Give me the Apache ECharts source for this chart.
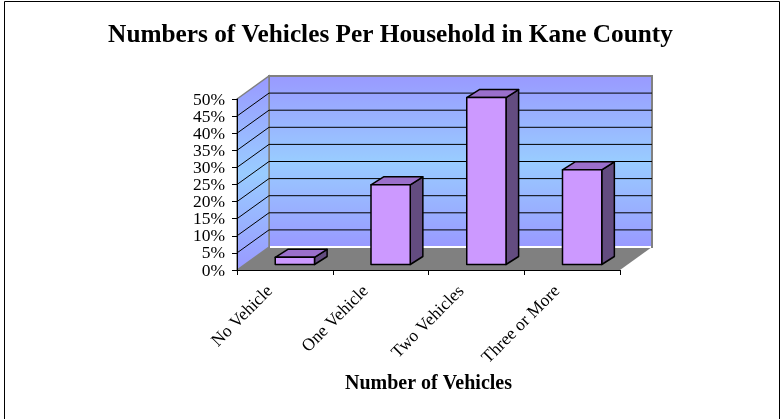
<!DOCTYPE html>
<html><head><meta charset="utf-8">
<script src="https://cdn.jsdelivr.net/npm/echarts@6/dist/echarts.min.js"></script>
<style>html,body{margin:0;padding:0;background:#fff}#c{width:781px;height:419px}</style>
</head><body><div id="c"></div>
<script>
const categories = ['No Vehicle', 'One Vehicle', 'Two Vehicles', 'Three or More'];
const shares = [2.1, 23.3, 48.8, 27.7];
const yTicks = [0, 5, 10, 15, 20, 25, 30, 35, 40, 45, 50];
const gridValues = [5, 10, 15, 20, 25, 30, 35, 40, 45];
const titleText = 'Numbers of Vehicles Per Household in Kane County';
const xAxisTitle = 'Number of Vehicles';

const DX = 32, DY = -23;          // wall depth offset
const BDX = 12.6, BDY = -8;       // bar depth offset
const BOFFX = 10, BOFFY = -5.5;   // bar front face offset from front plane
const FONT = 'Liberation Serif, Times New Roman, serif';

const chart = echarts.init(document.getElementById('c'));

function wallGrad() {
  return new echarts.graphic.LinearGradient(0, 0, 0, 1, [
    { offset: 0, color: '#9999FF' },
    { offset: 0.5, color: '#99CCFF' },
    { offset: 1, color: '#9999FF' }
  ]);
}

function renderWalls(params, api) {
  const cs = params.coordSys;
  const x0 = cs.x, x1 = cs.x + cs.width, yt = cs.y, yb = cs.y + cs.height;
  const ch = [];
  ch.push({ type: 'polygon', shape: { points: [[x0, yb], [x1, yb], [x1 + DX, yb + DY], [x0 + DX, yb + DY]] },
    style: { fill: '#808080' } });
  ch.push({ type: 'rect', shape: { x: x0 + DX, y: yt + DY, width: cs.width, height: cs.height },
    style: { fill: wallGrad(), stroke: '#808080', lineWidth: 2 } });
  ch.push({ type: 'polygon', shape: { points: [[x0, yt], [x0 + DX, yt + DY], [x0 + DX, yb + DY], [x0, yb]] },
    style: { fill: wallGrad(), stroke: '#808080', lineWidth: 1.5 } });
  gridValues.forEach(v => {
    const y = api.coord([0, v])[1];
    ch.push({ type: 'polyline', shape: { points: [[x0, y], [x0 + DX, y + DY], [x1 + DX, y + DY]] },
      style: { stroke: '#000', lineWidth: 1, fill: null } });
  });
  ch.push({ type: 'line', shape: { x1: x0 + DX + 1, y1: yb + DY, x2: x1 + DX - 1, y2: yb + DY },
    style: { stroke: '#fff', lineWidth: 2 } });
  // y tick labels
  yTicks.forEach(v => {
    const y = api.coord([0, v])[1];
    ch.push({ type: 'text', x: x0 - 12, y: y + 1,
      style: { text: v + '%', fontFamily: FONT, fontSize: 17.5, fill: '#000', align: 'right', verticalAlign: 'middle' } });
  });
  return { type: 'group', children: ch };
}

function renderBar(params, api) {
  const i = api.value(0), v = api.value(1);
  const top = api.coord([i, v]), base = api.coord([i, 0]);
  const w = api.size([1, 0])[0] * 0.41;
  const xl = top[0] - w / 2 + BOFFX, xr = xl + w;
  const yt = top[1] + BOFFY, yb = base[1] + BOFFY;
  const st = { stroke: '#000', lineWidth: 1.5, lineJoin: 'round' };
  return { type: 'group', children: [
    { type: 'polygon', shape: { points: [[xr, yt], [xr + BDX, yt + BDY], [xr + BDX, yb + BDY], [xr, yb]] },
      style: Object.assign({ fill: '#634C80' }, st) },
    { type: 'polygon', shape: { points: [[xl, yt], [xr, yt], [xr + BDX, yt + BDY], [xl + BDX, yt + BDY]] },
      style: Object.assign({ fill: '#9A6FCB' }, st) },
    { type: 'rect', shape: { x: xl, y: yt, width: w, height: yb - yt },
      style: Object.assign({ fill: '#CC99FF' }, st) }
  ] };
}

chart.setOption({
  animation: false,
  backgroundColor: '#fff',
  title: { text: titleText, left: 'center', top: 18,
    textStyle: { fontFamily: FONT, fontWeight: 'bold', fontSize: 25.3, color: '#000' } },
  graphic: [
    { type: 'polyline', shape: { points: [[4.5, 419], [4.5, 1.5], [779.5, 1.5], [779.5, 419]] },
      style: { fill: null, stroke: '#000', lineWidth: 1 }, z: 100 }
  ],
  grid: { left: 237, top: 99, width: 383, height: 171 },
  xAxis: {
    type: 'category', data: categories, z: 5,
    axisLine: { lineStyle: { color: '#000', width: 1 } },
    axisTick: { show: true, alignWithLabel: false, length: 5, lineStyle: { color: '#000' } },
    axisLabel: { interval: 0, rotate: 45, margin: -9, align: 'right', verticalAlign: 'top',
      padding: [0, 30, 0, 0], fontFamily: FONT, fontSize: 17.5, color: '#000' },
    name: xAxisTitle, nameLocation: 'middle', nameGap: 104,
    nameTextStyle: { fontFamily: FONT, fontWeight: 'bold', fontSize: 20, color: '#000' }
  },
  yAxis: {
    type: 'value', min: 0, max: 50, interval: 5, z: 5,
    axisLine: { show: true, lineStyle: { color: '#000', width: 1 } },
    axisTick: { show: true, length: 5, lineStyle: { color: '#000' } },
    axisLabel: { show: false },
    splitLine: { show: false }
  },
  series: [
    { type: 'custom', z: 1, clip: false, silent: true, renderItem: renderWalls, data: [[0, 0]] },
    { type: 'custom', z: 3, clip: false, renderItem: renderBar,
      data: shares.map((v, i) => [i, v]), encode: { x: 0, y: 1 } }
  ]
});
</script></body></html>
